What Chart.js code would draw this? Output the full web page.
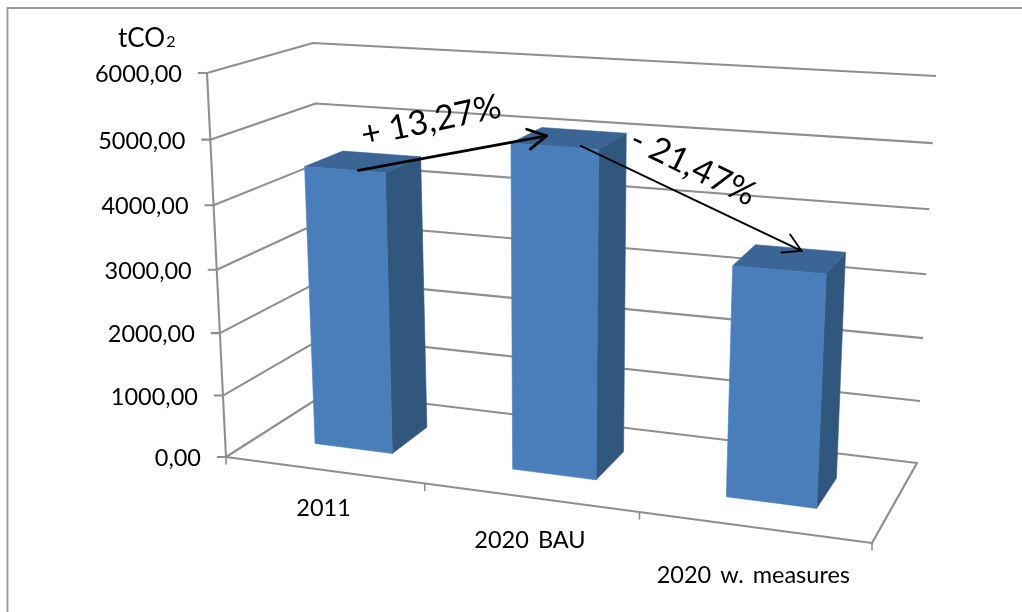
<!DOCTYPE html>
<html>
<head>
<meta charset="utf-8">
<style>html,body{margin:0;padding:0;background:#fff}canvas{display:block}</style>
<script src="https://cdn.jsdelivr.net/npm/chart.js@4/dist/chart.umd.min.js"></script>
</head>
<body>
<canvas id="c" width="1022" height="612"></canvas>
<script>
const categories = ['2011', '2020 BAU', '2020 w. measures'];
const emissions = [4470, 5063, 3510];
const yMax = 6000;
const yStep = 1000;
const unitLabel = 'tCO';
const unitSub = '2';
const changeUp = '+ 13,27%';
const changeDown = '- 21,47%';

// Perspective box of the 3-D plot (styling/geometry only)
const box = {
  fl0:[226,457], fr0:[872,543], bl0:[328,392], br0:[917,463],
  fl1:[207,73],  fr1:[894,117], bl1:[313,43],  br1:[936,76],
  kU:1.125, kV:1.05, barW0:0.32, barW1:0.705
};
const font = 'Lato, "Open Sans", sans-serif';
const gridColor = '#8f8f8f';
const lerp = (a,b,t)=>[a[0]+(b[0]-a[0])*t, a[1]+(b[1]-a[1])*t];
const warp = (t,k)=>t/(t+k*(1-t));
// u: 0..1 across categories, w: 0..1 depth, v: 0..1 height
function project(u,w,v){
  const U=warp(u,box.kU), V=warp(v,box.kV);
  const bottom=lerp(lerp(box.fl0,box.fr0,U),lerp(box.bl0,box.br0,U),w);
  const top=lerp(lerp(box.fl1,box.fr1,U),lerp(box.bl1,box.br1,U),w);
  return lerp(bottom,top,V);
}
function poly(ctx,pts,fill){
  ctx.beginPath();pts.forEach((p,i)=>i?ctx.lineTo(p[0],p[1]):ctx.moveTo(p[0],p[1]));ctx.closePath();
  ctx.fillStyle=fill;ctx.fill();ctx.strokeStyle=fill;ctx.lineWidth=0.6;ctx.stroke();
}
function seg(ctx,a,b,color,width){
  ctx.beginPath();ctx.moveTo(a[0],a[1]);ctx.lineTo(b[0],b[1]);ctx.strokeStyle=color;ctx.lineWidth=width;ctx.lineCap='round';ctx.stroke();
}
function arrow(ctx,a,b,width,head,spread){
  seg(ctx,a,b,'#000',width);
  const ang=Math.atan2(b[1]-a[1],b[0]-a[0]);
  [-1,1].forEach(s=>{
    const t=ang+Math.PI+s*spread;
    seg(ctx,b,[b[0]+Math.cos(t)*head,b[1]+Math.sin(t)*head],'#000',width);
  });
}
function rotated(ctx,text,x,y,deg,size){
  ctx.save();ctx.translate(x,y);ctx.rotate(deg*Math.PI/180);
  ctx.font=size+'px '+font;ctx.fillStyle='#000';ctx.textAlign='center';ctx.textBaseline='middle';
  ctx.fillText(text,0,0);ctx.restore();
}

const box3d = {
  id:'box3d',
  beforeDatasetsDraw(chart){
    const ctx=chart.ctx, y=chart.scales.y;
    const vOf=val=>(val-y.min)/(y.max-y.min);
    ctx.save();
    // outer frame
    seg(ctx,[7.5,8],[7.5,620],'#9a9a9a',1.8);
    seg(ctx,[7.5,8],[1030,8],'#9a9a9a',1.8);
    // horizontal grid lines over side and back wall
    y.ticks.forEach(t=>{
      const v=vOf(t.value);
      const a=project(0,0,v),b=project(0,1,v),c=project(1,1,v);
      ctx.beginPath();ctx.moveTo(a[0]-9,a[1]);ctx.lineTo(a[0],a[1]);ctx.lineTo(b[0],b[1]);ctx.lineTo(c[0],c[1]);
      ctx.strokeStyle=gridColor;ctx.lineWidth=2.1;ctx.lineJoin='round';ctx.lineCap='butt';ctx.stroke();
    });
    // value axis, floor edges and category ticks
    seg(ctx,project(0,0,0),project(0,0,1),gridColor,2.1);
    seg(ctx,project(0,0,0),project(1,0,0),gridColor,2.2);
    seg(ctx,project(1,0,0),project(1,1,0),gridColor,2.2);
    for(let i=0;i<=categories.length;i++){
      const p=project(i/categories.length,0,0);
      seg(ctx,p,[p[0],p[1]+7],gridColor,1.6);
    }
    ctx.restore();
  },
  beforeDatasetDraw(chart,args){
    const ctx=chart.ctx, area=chart.chartArea, y=chart.scales.y;
    const ds=chart.data.datasets[args.index];
    const toU=px=>(px-area.left)/(area.right-area.left);
    const vOf=val=>(val-y.min)/(y.max-y.min);
    args.meta.data.forEach(el=>{
      const props=el.getProps(['x','y','base','width'],true);
      const u0=toU(props.x-props.width/2),u1=toU(props.x+props.width/2);
      const v=vOf(y.getValueForPixel(props.y));
      const w0=box.barW0,w1=box.barW1;
      poly(ctx,[project(u1,w0,0),project(u1,w1,0),project(u1,w1,v),project(u1,w0,v)],ds.sideColor);
      poly(ctx,[project(u0,w0,v),project(u0,w1,v),project(u1,w1,v),project(u1,w0,v)],ds.topColor);
      poly(ctx,[project(u0,w0,0),project(u1,w0,0),project(u1,w0,v),project(u0,w0,v)],ds.backgroundColor);
    });
    return false;
  },
  afterDatasetsDraw(chart){
    const ctx=chart.ctx, y=chart.scales.y, area=chart.chartArea;
    const meta=chart.getDatasetMeta(0);
    const vOf=val=>(val-y.min)/(y.max-y.min);
    const toU=px=>(px-area.left)/(area.right-area.left);
    // point on the top face of a bar: a = across the bar (0..1), d = depth inside the bar (0..1)
    const onTop=(i,a,d)=>{
      const el=meta.data[i];
      const u=toU(el.x-el.width/2+el.width*a);
      return project(u,box.barW0+(box.barW1-box.barW0)*d,vOf(emissions[i]));
    };
    ctx.save();
    arrow(ctx,onTop(0,0.66,0.02),onTop(1,0.22,0.55),2.8,21,0.5);
    arrow(ctx,onTop(1,0.76,0.12),onTop(2,0.54,0.9),1.9,20,0.52);
    rotated(ctx,changeUp,431,121,-12,34);
    rotated(ctx,changeDown,693,167,26,34);
    // value tick labels
    ctx.fillStyle='#000';ctx.font='23.5px '+font;ctx.textAlign='right';ctx.textBaseline='middle';
    y.ticks.forEach(t=>{
      const p=project(0,0,vOf(t.value));
      ctx.fillText(t.value.toFixed(2).replace('.',','),p[0]-25,p[1]+1.5);
    });
    // category labels, stepped down along the sloping front edge
    ctx.textAlign='center';ctx.font='23.5px '+font;ctx.wordSpacing='3px';
    categories.forEach((c,i)=>{
      const p=project((i+0.5)/categories.length,0,0);
      ctx.fillText(c,p[0],p[1]+38+(i*5));
    });
    ctx.wordSpacing='0px';
    // unit
    ctx.textAlign='left';ctx.textBaseline='alphabetic';ctx.font='26px '+font;
    ctx.fillText(unitLabel,118,47);
    const wid=ctx.measureText(unitLabel).width;
    ctx.font='16px '+font;ctx.fillText(unitSub,118+wid+1,47);
    ctx.restore();
  }
};

new Chart(document.getElementById('c'),{
  type:'bar',
  data:{labels:categories,datasets:[{
    label:'tCO2',data:emissions,
    backgroundColor:'#4a7ebb',topColor:'#3a6595',sideColor:'#32577f',
    categoryPercentage:1,barPercentage:0.4
  }]},
  options:{
    responsive:false,animation:false,
    layout:{padding:0},
    plugins:{legend:{display:false},tooltip:{enabled:false}},
    scales:{
      x:{display:false,offset:true},
      y:{display:false,min:0,max:yMax,ticks:{stepSize:yStep}}
    }
  },
  plugins:[box3d]
});
</script>
</body>
</html>
